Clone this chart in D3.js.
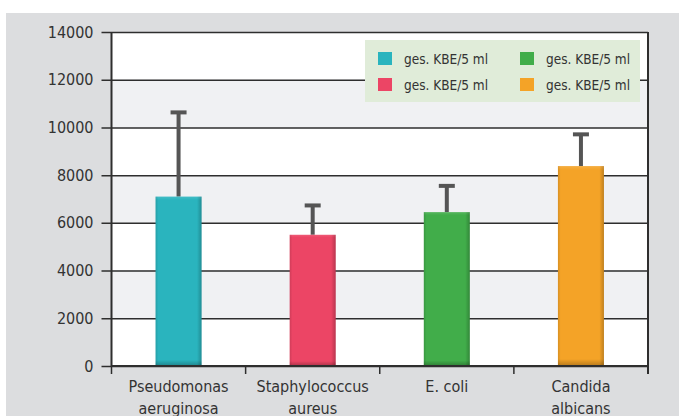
<!DOCTYPE html>
<html>
<head>
<meta charset="utf-8">
<script src="https://cdn.jsdelivr.net/npm/d3@7"></script>
<style>
  body { margin: 0; background: #fff; }
  text { font-family: "DejaVu Sans Condensed", "DejaVu Sans", sans-serif; font-stretch: condensed; fill: #333; }
</style>
</head>
<body>
<svg id="chart" width="679" height="416"></svg>
<script>
// categories and values
var categories = [["Pseudomonas", "aeruginosa"], ["Staphylococcus", "aureus"], ["E. coli"], ["Candida", "albicans"]];
var means = [7100, 5500, 6450, 8380];
var errTops = [10630, 6730, 7550, 9710];
var colors = ["#2ab4be", "#ec4565", "#41ad4a", "#f4a327"];
var legendLabels = ["ges. KBE/5 ml", "ges. KBE/5 ml", "ges. KBE/5 ml", "ges. KBE/5 ml"];
var yTicks = [0, 2000, 4000, 6000, 8000, 10000, 12000, 14000];

function makeChart() {
    var svg = d3.select("#chart");
    var left = 111.5, right = 648, top = 32, bottom = 366;

    // gray panel
    svg.append("rect").attr("x", 6).attr("y", 13)
        .attr("width", 673).attr("height", 403).attr("fill", "#dcdddf");

    var scX = d3.scaleBand()
        .domain(d3.range(categories.length))
        .range([left, right])
        .paddingInner(0).paddingOuter(0);
    var scY = d3.scaleLinear().domain([0, 14000]).range([bottom, top]);

    // alternating bands
    var bands = svg.append("g");
    for (var i = 0; i < yTicks.length - 1; i++) {
        bands.append("rect")
            .attr("x", left).attr("width", right - left)
            .attr("y", scY(yTicks[i + 1]))
            .attr("height", scY(yTicks[i]) - scY(yTicks[i + 1]))
            .attr("fill", i % 2 == 0 ? "#ffffff" : "#f0f1f3");
    }

    // grid lines + y axis
    var yAxis = d3.axisLeft(scY).tickValues(yTicks)
        .tickSize(-(right - left)).tickSizeOuter(0).tickPadding(8)
        .tickFormat(d3.format("d"));
    var gy = svg.append("g").attr("transform", "translate(" + left + ",0)").call(yAxis);
    gy.select(".domain").remove();
    gy.selectAll(".tick line").attr("stroke", "#2e2e2e").attr("stroke-width", 1.5)
        .attr("x1", -10);
    gy.selectAll(".tick text").attr("font-size", 16).attr("fill", "#333")
        .attr("x", -18).style("font-family", "DejaVu Sans Condensed");

    // frame
    svg.append("line").attr("x1", left).attr("x2", left).attr("y1", top).attr("y2", bottom)
        .attr("stroke", "#2e2e2e").attr("stroke-width", 2);
    svg.append("line").attr("x1", right).attr("x2", right).attr("y1", top).attr("y2", bottom + 8)
        .attr("stroke", "#2e2e2e").attr("stroke-width", 2);
    svg.append("line").attr("x1", left).attr("x2", right).attr("y1", bottom).attr("y2", bottom)
        .attr("stroke", "#2e2e2e").attr("stroke-width", 2);

    // category boundary ticks
    svg.append("g").selectAll("line")
        .data(d3.range(categories.length + 1)).enter().append("line")
        .attr("x1", d => left + d * scX.bandwidth())
        .attr("x2", d => left + d * scX.bandwidth())
        .attr("y1", bottom).attr("y2", bottom + 8)
        .attr("stroke", "#2e2e2e").attr("stroke-width", 1.5);

    // shading gradient for the bevel look
    var defs = svg.append("defs");
    var gr = defs.append("linearGradient").attr("id", "bevelH");
    gr.append("stop").attr("offset", "0").attr("stop-color", "#000").attr("stop-opacity", 0.12);
    gr.append("stop").attr("offset", "0.06").attr("stop-color", "#000").attr("stop-opacity", 0);
    gr.append("stop").attr("offset", "0.9").attr("stop-color", "#000").attr("stop-opacity", 0);
    gr.append("stop").attr("offset", "1").attr("stop-color", "#000").attr("stop-opacity", 0.22);
    var gv = defs.append("linearGradient").attr("id", "bevelV")
        .attr("x1", 0).attr("x2", 0).attr("y1", 0).attr("y2", 1);
    gv.append("stop").attr("offset", "0").attr("stop-color", "#fff").attr("stop-opacity", 0.12);
    gv.append("stop").attr("offset", "0.02").attr("stop-color", "#fff").attr("stop-opacity", 0);
    gv.append("stop").attr("offset", "0.97").attr("stop-color", "#000").attr("stop-opacity", 0);
    gv.append("stop").attr("offset", "1").attr("stop-color", "#000").attr("stop-opacity", 0.22);

    var barW = 46;
    var cx = i => scX(i) + scX.bandwidth() / 2;

    // error bars (drawn behind bars)
    var eg = svg.append("g").attr("stroke", "#555").attr("stroke-width", 4);
    eg.selectAll("line.v").data(means).enter().append("line")
        .attr("x1", (d, i) => cx(i)).attr("x2", (d, i) => cx(i))
        .attr("y1", d => scY(d)).attr("y2", (d, i) => scY(errTops[i]));
    eg.selectAll("line.c").data(errTops).enter().append("line")
        .attr("x1", (d, i) => cx(i) - 8).attr("x2", (d, i) => cx(i) + 8)
        .attr("y1", d => scY(d)).attr("y2", d => scY(d));

    var bars = svg.append("g");
    means.forEach(function (v, i) {
        var x = cx(i) - barW / 2, y = scY(v), h = scY(0) - scY(v) - 1;
        bars.append("rect").attr("x", x).attr("y", y).attr("width", barW).attr("height", h)
            .attr("fill", colors[i]);
        bars.append("rect").attr("x", x).attr("y", y).attr("width", barW).attr("height", h)
            .attr("fill", "url(#bevelH)");
        bars.append("rect").attr("x", x).attr("y", y).attr("width", barW).attr("height", h)
            .attr("fill", "url(#bevelV)");
    });

    // category labels
    var lab = svg.append("g");
    categories.forEach(function (lines, i) {
        var t = lab.append("text").attr("text-anchor", "middle")
            .attr("font-size", 16).attr("x", cx(i)).attr("y", 392);
        lines.forEach(function (s, j) {
            t.append("tspan").attr("x", cx(i)).attr("dy", j == 0 ? 0 : 22).text(s);
        });
    });

    // legend
    var lg = svg.append("g");
    lg.append("rect").attr("x", 365).attr("y", 40).attr("width", 275).attr("height", 62)
        .attr("fill", "#e0ecd9");
    var pos = [[378, 52], [378, 78], [520, 52], [520, 78]];
    var order = [0, 1, 2, 3];
    order.forEach(function (k) {
        var p = pos[k];
        lg.append("rect").attr("x", p[0]).attr("y", p[1]).attr("width", 14).attr("height", 13)
            .attr("fill", colors[k]);
        lg.append("text").attr("x", p[0] + 26).attr("y", p[1] + 11.5)
            .attr("font-size", 13.5).text(legendLabels[k]);
    });
}

makeChart();
</script>
</body>
</html>
